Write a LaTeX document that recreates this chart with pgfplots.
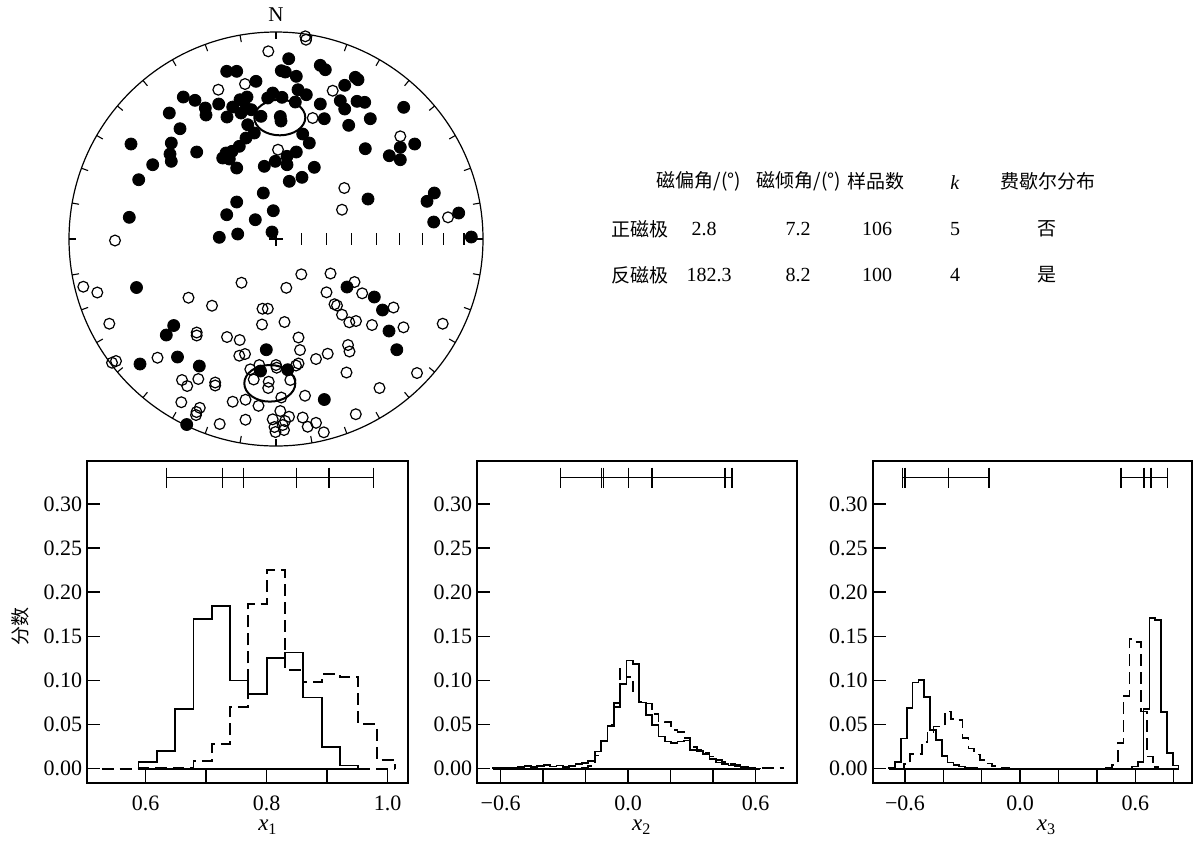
\documentclass[border=0pt]{standalone}
\usepackage{fontspec}
\setmainfont{Liberation Serif}
\newfontfamily\cjk{Noto Sans CJK SC}
\usepackage{pgfplots}
\usepackage{pgfplotstable}
\pgfplotsset{compat=1.18}

% stereonet points, positions in picture pixels (x right, y down)
\pgfplotstableread{
x y
226.7 71.3
236.7 71.3
256 81.3
183.3 97
195 100.3
205.3 108
206 115
218.7 104
169.3 113
227 117
180 128.7
131 144
171.3 143
170 154
171.3 161.3
196.7 152
152.7 164.7
138.7 179.7
129.3 217.3
226 153
232 151.3
222.7 158
229.3 159
236.7 168
239.3 146.3
232.7 107
240 99.7
247 97
246 108
251.3 109.7
241 113
247.7 124.7
254.3 133
246 138
261 116.3
267.7 98
272.7 93
275.3 161.3
264.3 166.3
263.3 193
236.7 202
226.7 214.7
255.3 219.7
273.3 210.7
219.3 237.3
237.7 234
272 232
288.7 58.7
281.3 70.7
285.3 72
296.3 76.3
320.3 65.3
325.3 69.7
355.3 77.3
358 79.7
344.7 85.3
298 89.7
306.3 94.7
282 97.3
295.3 102
320.3 104
340.3 100.7
344.7 109
357 101.3
364.7 102.3
403.7 107.3
324.3 118.7
370.3 118.7
348.7 125.3
280.3 116.5
281 121
302.7 134
309.3 143
296.3 152
287 156.3
287 164.7
314.3 167.3
302 177.3
289.3 181.3
365.3 148.7
400.3 147.3
414.7 144
389.3 155.7
400.3 159.7
368 199
434.3 193
427 201.3
458.7 213
433.7 222
471.3 237
136.5 287.5
173.7 325.5
166.3 335
140 364
177.5 357
199.3 366
266.3 349.7
260.5 371
287.7 369.7
347 287
374.3 297
382.5 310
389 331
396.8 349.7
324.3 399.5
186.7 424.5
}\filledpts

\pgfplotstableread{
x y
268.3 51.3
218.3 89.7
245 84
278 149.7
115 240.5
305.3 36.3
306 39.7
332.7 90.7
312.7 118
400.3 136.3
344.3 188
342 209.7
448 217.3
83.3 286.7
97.3 292.5
109.3 323.7
112 362.7
116 361
157.5 357.7
188.5 297.7
212 305.7
241.5 282.7
196.7 332.5
196.7 335.5
227 337
239.7 340
239.3 355.7
245 354
262.5 308.7
267.8 308.7
262 324.5
250.3 369.3
259.3 365
276 365
276.7 367.7
253.7 379.5
268.7 381.7
268.2 388
182 380
198.3 379
187.2 386
215.2 382.5
215.2 385.5
245.5 399.7
258.5 405.8
232.7 401.7
181.3 402.2
199.8 407.8
196.5 412
196 415
245.5 419.7
219.7 424
272.7 419.3
274.5 427
275.5 432
282.7 425
285 421
284 430
289 416.7
301.3 274.3
330.5 273.5
354.5 282
286.3 287.8
326.5 292.3
362.2 293.3
334.5 304.2
337 305.5
342 314.7
349.3 322.3
356 321
372 325
393.5 307.5
403.5 327.3
442.7 323.7
284.5 322
298.5 337.5
300 350
316 359
327.7 353.7
348 345
349.5 351.5
346.5 372.5
417 373
379.5 388
305 395.7
355.8 414.2
296 365.5
298.5 363.5
290.3 380
281.3 397.5
280.3 411
302.7 417.5
307.7 426.7
316 422.8
323.8 432.3
}\openpts

\pgfplotsset{
  histax/.style={scale only axis, height=161pt, anchor=north west,
    ymin=-0.0162, ymax=0.3487,
    ytick={0,0.05,0.1,0.15,0.2,0.25,0.3},
    yticklabels={0.00,0.05,0.10,0.15,0.20,0.25,0.30},
    tick align=inside, xtick pos=left, ytick pos=left,
    major tick length=6.5pt,
    every tick/.append style={black, line width=0.75pt},
    axis line style={line width=0.85pt},
    tick label style={font=\fontsize{11}{13}\selectfont},
    xticklabel style={yshift=-3pt},
    yticklabel style={xshift=1pt},
    xlabel style={font=\fontsize{11.5}{13}\selectfont, anchor=center, yshift=-22.2pt},
  },
  sol/.style={black, line width=0.85pt, const plot, mark=none},
  dsh/.style={black, line width=0.85pt, const plot, mark=none, dash pattern=on 6pt off 3pt},
  ebar/.style={black, line width=0.7pt, mark=|, mark size=5pt, mark options={solid, line width=0.7pt}},
}

\begin{document}
\begin{tikzpicture}
\useasboundingbox (0,0) rectangle (599pt,-421.5pt);

% ---------------- stereonet ----------------
\begin{axis}[at={(34.5pt,-16pt)}, anchor=north west, scale only axis,
  width=207pt, height=207pt, xmin=69, xmax=483, ymin=32, ymax=446,
  y dir=reverse, hide axis, clip=false]
\addplot[only marks, mark=*, mark size=3pt, black] table {\filledpts};
\addplot[only marks, mark=o, mark size=2.7pt, black, mark options={line width=0.6pt}] table {\openpts};
\draw[line width=1pt] (axis cs:279.8,117.5) ellipse [x radius=25.5, y radius=17.8];
\draw[line width=1pt] (axis cs:269.8,383.3) ellipse [x radius=25.5, y radius=18.3];
\end{axis}

\begin{scope}[x=0.5pt,y=-0.5pt]
\draw[line width=0.6pt] (276,239) circle [radius=103.5pt];
\foreach \a in {0,10,...,350}
  \draw[line width=0.55pt] ({276+207*sin(\a)},{239-207*cos(\a)}) -- ({276+200*sin(\a)},{239-200*cos(\a)});
\draw[line width=0.55pt] (269,239) -- (283,239);
\draw[line width=0.55pt] (276,232.5) -- (276,245.5);
\foreach \r in {25.5,50.8,75.8,100.1,123.7,146.4,167.9,188}
  \draw[line width=0.55pt] ({276+\r},233) -- ({276+\r},245);
\node[font=\fontsize{10.5}{12}\selectfont] at (276,15) {N};

% table
\begin{scope}[every node/.style={font=\fontsize{10}{12}\selectfont}]
\node[font=\cjk\fontsize{9.5}{11}\selectfont] at (699,181.7) {磁偏角/(°)};
\node[font=\cjk\fontsize{9.5}{11}\selectfont] at (799,181.7) {磁倾角/(°)};
\node[font=\cjk\fontsize{9.5}{11}\selectfont] at (876,181.7) {样品数};
\node at (955,182.5) {\textit{k}};
\node[font=\cjk\fontsize{9.5}{11}\selectfont] at (1047.5,181.7) {费歇尔分布};
\node[font=\cjk\fontsize{9.5}{11}\selectfont] at (640,229) {正磁极};
\node at (704,229) {2.8};
\node at (798,229) {7.2};
\node at (877,229) {106};
\node at (955,229) {5};
\node[font=\cjk\fontsize{9.5}{11}\selectfont] at (1047,229) {否};
\node[font=\cjk\fontsize{9.5}{11}\selectfont] at (640,275) {反磁极};
\node at (709,275) {182.3};
\node at (798,275) {8.2};
\node at (877,275) {100};
\node at (955,275) {4};
\node[font=\cjk\fontsize{9.5}{11}\selectfont] at (1047,275) {是};
\end{scope}
\node[rotate=90, font=\cjk\fontsize{9.5}{11}\selectfont] at (20.5,626.7) {分数};
\end{scope}

% ---------------- histogram x1 ----------------
\begin{axis}[histax, at={(43.65pt,-230.5pt)}, width=160.35pt,
  xmin=0.5035, xmax=1.0336,
  xtick={0.6,0.7,0.8,0.9,1.0}, xticklabels={0.6,,0.8,,1.0},
  xlabel={\textit{x}\textsubscript{1}},
  xlabel style={at={(axis cs:0.802,-0.0162)}}]
\addplot[sol] coordinates {(0.5879,0) (0.5879,0.0075) (0.6182,0.0204) (0.6485,0.068) (0.6788,0.170) (0.7091,0.1845) (0.7394,0.100) (0.7697,0.0845) (0.8,0.1257) (0.8303,0.1317) (0.8606,0.0808) (0.8909,0.0245) (0.9212,0.0038) (0.9515,0)};
\addplot[sol] coordinates {(0.5879,0) (0.9515,0)};
\addplot[dsh] coordinates {(0.5273,0) (0.5879,0.0005) (0.6182,0.001) (0.6485,0.0015) (0.6788,0.009) (0.7091,0.028) (0.7394,0.070) (0.7697,0.187) (0.8,0.225) (0.8303,0.112) (0.8606,0.098) (0.8909,0.107) (0.9212,0.104) (0.9515,0.0506) (0.9818,0.010) (1.0121,0)};
\addplot[dsh] coordinates {(0.9515,0) (1.0121,0)};
\addplot[ebar] coordinates {(0.6347,0.33) (0.7266,0.33) (0.762,0.33) (0.8496,0.33) (0.903,0.33) (0.9769,0.33)};
\end{axis}

% ---------------- histogram x2 ----------------
\begin{axis}[histax, at={(238.65pt,-230.5pt)}, width=160pt,
  xmin=-0.710, xmax=0.796,
  xtick={-0.6,-0.4,-0.2,0,0.2,0.4,0.6}, xticklabels={−0.6,,,0.0,,,0.6},
  xlabel={\textit{x}\textsubscript{2}},
  xlabel style={at={(axis cs:0.0635,-0.0162)}}]
\addplot[sol] coordinates {(-0.6375,0) (-0.6375,0.0005) (-0.6075,0.0005) (-0.5775,0.001) (-0.5475,0.001) (-0.5175,0.002) (-0.4875,0.003) (-0.4575,0.002) (-0.4275,0.003) (-0.3975,0.004) (-0.3675,0.0026) (-0.3375,0.0038) (-0.3075,0.0019) (-0.2775,0.0034) (-0.2475,0.0053) (-0.2175,0.0068) (-0.1875,0.0091) (-0.1575,0.0196) (-0.1275,0.0317) (-0.0975,0.0487) (-0.0675,0.0743) (-0.0375,0.0962) (-0.0075,0.1226) (0.0225,0.119) (0.0525,0.0751) (0.0825,0.0611) (0.1125,0.0498) (0.1425,0.0366) (0.1725,0.0309) (0.2025,0.029) (0.2325,0.0309) (0.2625,0.032) (0.2925,0.0215) (0.3225,0.0204) (0.3525,0.0166) (0.3825,0.011) (0.4125,0.0072) (0.4425,0.0057) (0.4725,0.0038) (0.5025,0.0026) (0.5325,0.0019) (0.5625,0.0011) (0.5925,0.0004) (0.6225,0)};
\addplot[sol] coordinates {(-0.6375,0) (0.6225,0)};
\addplot[dsh] coordinates {(-0.6375,0) (-0.2175,0.001) (-0.1875,0.003) (-0.1575,0.015) (-0.1275,0.032) (-0.0975,0.05) (-0.0675,0.07) (-0.0375,0.113) (-0.0075,0.104) (0.0225,0.0875) (0.0525,0.076) (0.0825,0.074) (0.1125,0.062) (0.1425,0.0536) (0.1725,0.053) (0.2025,0.044) (0.2325,0.042) (0.2625,0.035) (0.2925,0.025) (0.3225,0.021) (0.3525,0.0177) (0.3825,0.014) (0.4125,0.010) (0.4425,0.008) (0.4725,0.005) (0.5025,0.004) (0.5325,0.002) (0.5625,0.001) (0.5925,0.0005) (0.7275,0)};
\addplot[ebar] coordinates {(-0.3195,0.33) (-0.1247,0.33) (-0.1153,0.33) (0.0005,0.33) (0.112,0.33) (0.4555,0.33) (0.4885,0.33)};
\end{axis}

% ---------------- histogram x3 ----------------
\begin{axis}[histax, at={(436.35pt,-230.5pt)}, width=159.5pt,
  xmin=-0.768, xmax=0.894,
  xtick={-0.6,-0.4,-0.2,0,0.2,0.4,0.6,0.8}, xticklabels={−0.6,,,0.0,,,0.6,},
  xlabel={\textit{x}\textsubscript{3}},
  xlabel style={at={(axis cs:0.138,-0.0162)}}]
\addplot[sol] coordinates {(-0.6818,0) (-0.6818,0.0015) (-0.6514,0.0075) (-0.621,0.0343) (-0.5906,0.0687) (-0.5602,0.0977) (-0.5298,0.1008) (-0.4994,0.0811) (-0.469,0.0442) (-0.4386,0.0328) (-0.4082,0.0147) (-0.3778,0.0072) (-0.3474,0.0045) (-0.317,0.0026) (-0.2866,0.0015) (-0.2562,0.0008) (-0.2258,0.0004) (-0.1954,0) (0.5826,0.0026) (0.613,0.0075) (0.6434,0.068) (0.6738,0.1706) (0.7042,0.1687) (0.7346,0.0642) (0.765,0.0177) (0.7954,0.0038) (0.8258,0)};
\addplot[sol] coordinates {(-0.6818,0) (0.8258,0)};
\addplot[dsh] coordinates {(-0.6342,0) (-0.6038,0.005) (-0.5734,0.0166) (-0.543,0.0166) (-0.5126,0.030) (-0.4822,0.042) (-0.4518,0.048) (-0.4214,0.049) (-0.391,0.065) (-0.3606,0.0565) (-0.3302,0.0555) (-0.2998,0.035) (-0.2694,0.023) (-0.239,0.016) (-0.2086,0.010) (-0.1782,0.006) (-0.1478,0.003) (-0.1174,0.0015) (-0.087,0.0005) (-0.0566,0)};
\addplot[dsh] coordinates {(0.4476,0) (0.4476,0.001) (0.478,0.004) (0.5084,0.029) (0.5388,0.0826) (0.5692,0.147) (0.5996,0.144) (0.63,0.065) (0.6604,0.014) (0.6908,0.002) (0.7212,0)};
\addplot[ebar] coordinates {(-0.614,0.33) (-0.6,0.33) (-0.3745,0.33) (-0.1625,0.33)};
\addplot[ebar] coordinates {(0.525,0.33) (0.645,0.33) (0.681,0.33) (0.768,0.33)};
\end{axis}
\end{tikzpicture}
\end{document}
